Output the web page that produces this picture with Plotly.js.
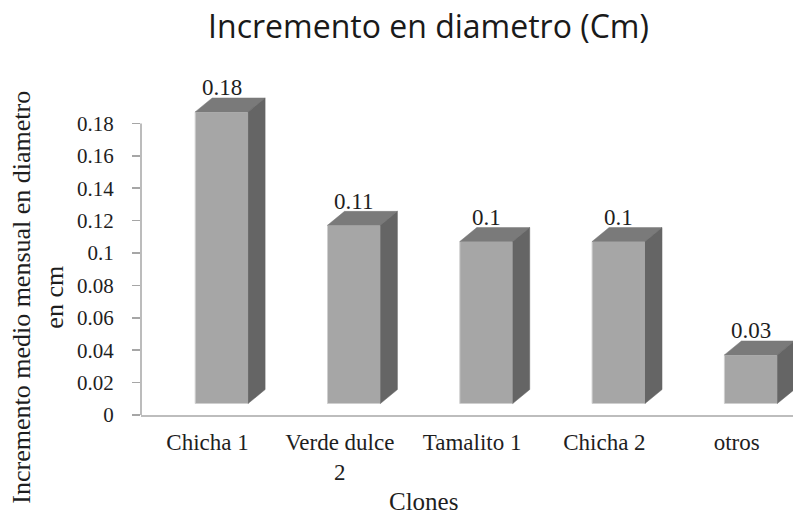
<!DOCTYPE html>
<html>
<head>
<meta charset="utf-8">
<script src="https://cdn.plot.ly/plotly-3.0.1.min.js"></script>
<style>html,body{margin:0;padding:0;background:#fff;}#chart{width:793px;height:516px;}</style>
</head>
<body>
<div id="chart"></div>
<script>
// ---- data ----
const categories = ['Chicha 1', 'Verde dulce<br>2', 'Tamalito 1', 'Chicha 2', 'otros'];
const values = [0.18, 0.11, 0.10, 0.10, 0.03];
const valueLabels = ['0.18', '0.11', '0.1', '0.1', '0.03'];
const yTickVals = [0, 0.02, 0.04, 0.06, 0.08, 0.10, 0.12, 0.14, 0.16, 0.18];
const yTickText = ['0', '0.02', '0.04', '0.06', '0.08', '0.1', '0.12', '0.14', '0.16', '0.18'];

// ---- 3D styling constants (axis units) ----
const SHIFT = 0.107;   // bar front-face offset from category label
const W = 0.40;        // bar width
const DX = 0.1285;     // depth in x
const DY = 0.0086;     // depth in y
const BASE = 0.0071;   // front face lifted above floor

const idx = categories.map((_, i) => i);
const barX = idx.map(i => i + SHIFT);

const topX = [], topY = [], sideX = [], sideY = [];
values.forEach((v, i) => {
  const c = barX[i], L = c - W / 2, R = c + W / 2, t = BASE + v;
  topX.push(L, R, R + DX, L + DX, L, null);
  topY.push(t, t, t + DY, t + DY, t, null);
  sideX.push(R, R + DX, R + DX, R, R, null);
  sideY.push(BASE, BASE + DY, t + DY, t, BASE, null);
});

const serif = 'Liberation Serif, Times New Roman, serif';
const txt = '#1e1e1e';

const traces = [
  {
    type: 'bar', x: barX, y: values, base: values.map(() => BASE), width: W,
    marker: {color: '#a6a6a6', line: {color: '#cfcfcf', width: 1}},
    hoverinfo: 'skip', showlegend: false
  },
  {
    type: 'scatter', mode: 'lines', x: topX, y: topY, fill: 'toself',
    fillcolor: '#7a7a7a', line: {color: '#7a7a7a', width: 0.5},
    hoverinfo: 'skip', showlegend: false
  },
  {
    type: 'scatter', mode: 'lines', x: sideX, y: sideY, fill: 'toself',
    fillcolor: '#656565', line: {color: '#656565', width: 0.5},
    hoverinfo: 'skip', showlegend: false
  }
];

const annotations = values.map((v, i) => ({
  x: barX[i], y: BASE + v + DY, xref: 'x', yref: 'y',
  text: valueLabels[i], showarrow: false, xanchor: 'center', yanchor: 'middle',
  yshift: 10, font: {family: serif, size: 23, color: txt}
}));
annotations.push({
  text: 'Incremento medio mensual en diametro<br>en cm',
  xref: 'paper', yref: 'paper', x: -0.1585, y: 0.364,
  xanchor: 'center', yanchor: 'middle', textangle: -90, showarrow: false,
  font: {family: serif, size: 26, color: txt}
});
annotations.push({
  text: 'Clones', xref: 'paper', yref: 'paper', x: (423 - 141) / 652, y: -0.218,
  xanchor: 'center', yanchor: 'top', showarrow: false,
  font: {family: serif, size: 25, color: txt}
});

const layout = {
  width: 793, height: 516,
  margin: {l: 141, r: 0, t: 91, b: 101, pad: 0},
  paper_bgcolor: '#fff', plot_bgcolor: '#fff',
  title: {
    text: 'Incremento en diametro (Cm)',
    font: {family: 'Open Sans, sans-serif', size: 32, color: '#1a1a1a'},
    xref: 'container', yref: 'container', x: 428.5 / 793, y: 1 - 27 / 516,
    xanchor: 'center', yanchor: 'middle'
  },
  xaxis: {
    range: [-0.5026, 4.4255], tickvals: idx, ticktext: categories,
    showgrid: false, zeroline: false, showline: true, linecolor: '#bdbdbd', linewidth: 2,
    ticks: '', ticklabelstandoff: 5,
    tickfont: {family: serif, size: 23, color: txt}, fixedrange: true
  },
  yaxis: {
    range: [0, 0.2], tickvals: yTickVals, ticktext: yTickText,
    showgrid: false, zeroline: false, showline: false,
    ticks: 'outside', ticklen: 8, tickcolor: '#a6a6a6', tickwidth: 1.5,
    ticklabelstandoff: 14,
    tickfont: {family: serif, size: 21, color: txt}, fixedrange: true
  },
  shapes: [{
    type: 'line', xref: 'paper', yref: 'y', x0: 0, x1: 0, y0: 0, y1: yTickVals[yTickVals.length - 1],
    line: {color: '#a6a6a6', width: 1.5}
  }],
  annotations: annotations,
  showlegend: false,
  bargap: 0
};

Plotly.newPlot('chart', traces, layout, {displayModeBar: false, staticPlot: true});
</script>
</body>
</html>
